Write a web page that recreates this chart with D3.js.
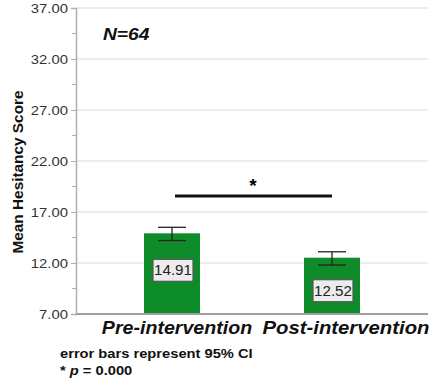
<!DOCTYPE html>
<html>
<head>
<meta charset="utf-8">
<script src="https://cdn.jsdelivr.net/npm/d3@7"></script>
<style>
  body { margin: 0; background: #fff; }
  svg { display: block; font-family: "Liberation Sans", Arial, sans-serif; }
</style>
</head>
<body>
<script>
var w = 433;
var h = 384;

// data
var categories = ["Pre-intervention", "Post-intervention"];
var means = [14.91, 12.52];
var ciLow = [14.2, 11.8];
var ciHigh = [15.5, 13.1];
var yTicks = [7, 12, 17, 22, 27, 32, 37];
var yMinor = [9.5, 14.5, 19.5, 24.5, 29.5, 34.5];

var svg = d3.select("body").append("svg")
  .attr("width", w)
  .attr("height", h);

// the source picture is a bit wider than tall, stretch text to match
function stretch(sel, k){
  sel.each(function(){
    var len = this.getComputedTextLength();
    d3.select(this).attr("textLength", len * k).attr("lengthAdjust", "spacingAndGlyphs");
  });
}

var y = d3.scaleLinear().domain([7, 37]).range([314, 8]);
var x = d3.scaleBand().domain(categories).range([92, 412])
  .paddingInner(0.65).paddingOuter(0.325);

var left = 76, right = 428;

// gridlines
svg.append("g").selectAll("line").data(yTicks.slice(1)).enter().append("line")
  .attr("x1", left).attr("x2", right)
  .attr("y1", function(d){ return y(d); })
  .attr("y2", function(d){ return y(d); })
  .attr("stroke", "#dcdcdc").attr("stroke-width", 1.2);

// y axis
var yAxis = d3.axisLeft(y).tickValues(yTicks).tickSize(5).tickPadding(3)
  .tickFormat(d3.format(".2f"));
var gy = svg.append("g").attr("transform", "translate(" + left + ",0)").call(yAxis);
gy.select(".domain").attr("stroke", "#b0b0b0").attr("stroke-width", 1.5);
gy.selectAll(".tick line").attr("stroke", "#b0b0b0");
gy.selectAll(".tick text").attr("font-size", 13.5).attr("fill", "#333")
  .attr("font-family", "Liberation Sans, Arial, sans-serif");
stretch(gy.selectAll(".tick text"), 1.1);

// minor ticks
svg.append("g").selectAll("line").data(yMinor).enter().append("line")
  .attr("x1", left - 4).attr("x2", left)
  .attr("y1", function(d){ return y(d); })
  .attr("y2", function(d){ return y(d); })
  .attr("stroke", "#b0b0b0");

// bars
svg.append("g").selectAll("rect").data(means).enter().append("rect")
  .attr("x", function(d, i){ return x(categories[i]); })
  .attr("y", function(d){ return y(d); })
  .attr("width", x.bandwidth())
  .attr("height", function(d){ return y(7) - y(d); })
  .attr("fill", "#0f8c2a");

// bottom axis line
svg.append("line")
  .attr("x1", left).attr("x2", right)
  .attr("y1", y(7)).attr("y2", y(7))
  .attr("stroke", "#a0a0a0").attr("stroke-width", 2);

// error bars
var eb = svg.append("g").attr("stroke", "#222").attr("stroke-width", 1.3);
categories.forEach(function(c, i){
  var cx = x(c) + x.bandwidth() / 2;
  eb.append("line").attr("x1", cx).attr("x2", cx)
    .attr("y1", y(ciLow[i])).attr("y2", y(ciHigh[i]));
  [ciLow[i], ciHigh[i]].forEach(function(v){
    eb.append("line").attr("x1", cx - 14).attr("x2", cx + 14)
      .attr("y1", y(v)).attr("y2", y(v));
  });
});

// value labels
var boxOffset = [37, 33];
categories.forEach(function(c, i){
  var cx = x(c) + x.bandwidth() / 2 + 1;
  var cy = y(means[i]) + boxOffset[i];
  svg.append("rect")
    .attr("x", cx - 20).attr("y", cy - 11)
    .attr("width", 40).attr("height", 22)
    .attr("fill", "#ececec").attr("stroke", "#555").attr("stroke-width", 1.2);
  var t = svg.append("text")
    .attr("x", cx).attr("y", cy + 5)
    .attr("text-anchor", "middle")
    .attr("font-size", 14).attr("fill", "#222")
    .text(means[i].toFixed(2));
  stretch(t, 1.08);
});

// significance line
var c0 = x(categories[0]) + x.bandwidth() / 2;
var c1 = x(categories[1]) + x.bandwidth() / 2;
svg.append("line")
  .attr("x1", c0 + 3).attr("x2", c1)
  .attr("y1", 196).attr("y2", 196)
  .attr("stroke", "#111").attr("stroke-width", 3);
svg.append("text")
  .attr("x", (c0 + c1) / 2 + 1).attr("y", 192)
  .attr("text-anchor", "middle")
  .attr("font-size", 19).attr("font-weight", "bold")
  .text("*");

// category labels
var labOffset = [5, 14];
var labStretch = [1.12, 1.16];
categories.forEach(function(c, i){
  var t = svg.append("text")
    .attr("x", x(c) + x.bandwidth() / 2 + labOffset[i])
    .attr("y", 334)
    .attr("text-anchor", "middle")
    .attr("font-size", 17.5).attr("font-weight", "bold").attr("font-style", "italic")
    .attr("fill", "#111")
    .text(c);
  stretch(t, labStretch[i]);
});

// N label
var nl = svg.append("text")
  .attr("x", 103).attr("y", 40)
  .attr("font-size", 17).attr("font-weight", "bold").attr("font-style", "italic")
  .attr("fill", "#111")
  .text("N=64");
stretch(nl, 1.13);

// y title
var yt = svg.append("text")
  .attr("transform", "translate(23," + 172 + ") rotate(-90)")
  .attr("text-anchor", "middle")
  .attr("font-size", 14.5).attr("font-weight", "bold")
  .attr("fill", "#111")
  .text("Mean Hesitancy Score");
stretch(yt, 1.06);

// footnotes
var f1 = svg.append("text")
  .attr("x", 60).attr("y", 358)
  .attr("font-size", 13).attr("font-weight", "bold").attr("fill", "#111")
  .text("error bars represent 95% CI");
stretch(f1, 1.13);
var fn = svg.append("text")
  .attr("x", 60).attr("y", 375)
  .attr("font-size", 13).attr("font-weight", "bold").attr("fill", "#111");
fn.append("tspan").text("* ");
fn.append("tspan").attr("font-style", "italic").text("p");
fn.append("tspan").text(" = 0.000");
stretch(fn, 1.13);
</script>
</body>
</html>
